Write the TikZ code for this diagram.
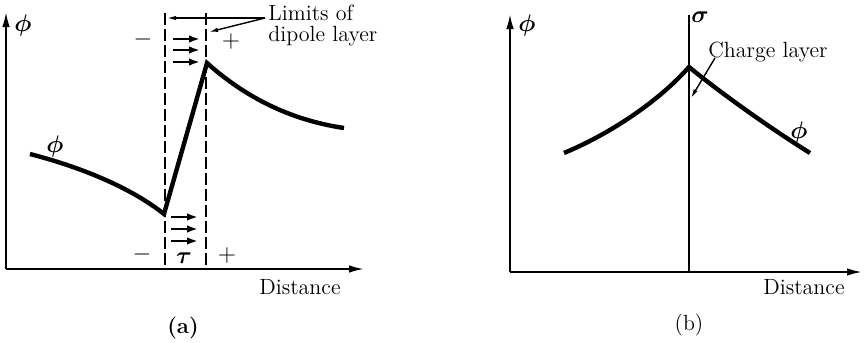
\documentclass[tikz,border=0pt]{standalone}
\usepackage{amsmath,amsbsy}
\usetikzlibrary{arrows.meta}
\begin{document}
\begin{tikzpicture}[x=0.5pt,y=-0.5pt,
  axis/.style={line width=1pt,-{Latex[length=7.5pt,width=3.8pt]}},
  curve/.style={line width=2.2pt,line join=miter},
  limit/.style={line width=1.2pt,dash pattern=on 6pt off 2pt},
  fieldarrow/.style={line width=1.3pt,-{Latex[length=5.5pt,width=3.8pt]}},
  leader/.style={line width=0.7pt,-{Latex[length=4.5pt,width=2.2pt]}},
  lbl/.style={inner sep=0pt,font=\fontsize{11}{12}\selectfont},
  sym/.style={inner sep=0pt,font=\fontsize{12}{13}\selectfont}]
\useasboundingbox (0,0) rectangle (864,343);
% ---------- panel (a)
\coordinate (aO) at (6,269);
\coordinate (aY) at (6,12);
\coordinate (aX) at (364,269);
\draw[axis] (aO) -- (aY);
\draw[axis] (aO) -- (aX);
\node[sym] (aphi) at (23,25) {$\boldsymbol{\phi}$};
\node[lbl] (adist) at (300,287) {Distance};
\node[lbl,font=\fontsize{11}{12}\selectfont\bfseries] (alab) at (183,328) {(a)};
% dashed limits
\coordinate (Lt) at (165,13); \coordinate (Lb) at (165,269);
\coordinate (Rt) at (206,13); \coordinate (Rb) at (206,269);
\draw[limit] (Lt) -- (Lb);
\draw[limit] (Rt) -- (Rb);
% potential curve
\coordinate (a1) at (30,154);
\coordinate (amin) at (164,214);
\coordinate (amax) at (207,63);
\coordinate (a2) at (344,128);
\draw[curve] (a1) .. controls (80,167) and (130,187) .. (amin) -- (amax)
  .. controls (245,97) and (290,120) .. (a2);
\node[sym] (aphic) at (55,146) {$\boldsymbol{\phi}$};
% signs
\node[sym,font=\fontsize{13}{14}\selectfont] (am1) at (143,39) {$-$};
\node[sym,font=\fontsize{13}{14}\selectfont] (ap1) at (231,41) {$+$};
\node[sym,font=\fontsize{13}{14}\selectfont] (am2) at (142,254) {$-$};
\node[sym,font=\fontsize{13}{14}\selectfont] (ap2) at (227,255) {$+$};
\node[sym] (atau) at (184,258) {$\boldsymbol{\tau}$};
% field arrows
\foreach \y/\n in {39/t1,50/t2,62/t3}{
  \coordinate (\n s) at (173,\y); \coordinate (\n e) at (200,\y);
  \draw[fieldarrow] (\n s) -- (\n e);}
\foreach \y/\n in {217/b1,229/b2,241/b3}{
  \coordinate (\n s) at (171,\y); \coordinate (\n e) at (198,\y);
  \draw[fieldarrow] (\n s) -- (\n e);}
% limits label
\node[lbl,anchor=base west] (lim1) at (268,20) {Limits of};
\node[lbl,anchor=base west] (lim2) at (268,41) {dipole layer};
\coordinate (ls) at (265,18);
\coordinate (lA) at (167,18);
\coordinate (lB) at (209,32);
\draw[leader] (ls) -- (lA);
\draw[leader] (ls) -- (lB);
% ---------- panel (b)
\coordinate (bO) at (510,272);
\coordinate (bY) at (510,14);
\coordinate (bX) at (862,272);
\draw[axis] (bO) -- (bY);
\draw[axis] (bO) -- (bX);
\node[sym] (bphi) at (527,25) {$\boldsymbol{\phi}$};
\node[lbl] (bdist) at (804,287) {Distance};
\node[lbl] (blab) at (689,325) {(b)};
\coordinate (st) at (689,15);
\coordinate (sb) at (689,272);
\draw[line width=1.1pt] (st) -- (sb);
\node[sym] (bsig) at (700,17) {$\boldsymbol{\sigma}$};
\coordinate (b1) at (564,153);
\coordinate (bpk) at (689,67);
\coordinate (b2) at (810,153);
\draw[curve] (b1) .. controls (612,133) and (660,100) .. (bpk)
  .. controls (722,94) and (770,128) .. (b2);
\node[sym] (bphic) at (799,132) {$\boldsymbol{\phi}$};
\node[lbl,anchor=west] (charge) at (708,52) {Charge layer};
\coordinate (cs) at (715,58);
\coordinate (ce) at (691,98);
\draw[leader] (cs) -- (ce);
\end{tikzpicture}
\end{document}
